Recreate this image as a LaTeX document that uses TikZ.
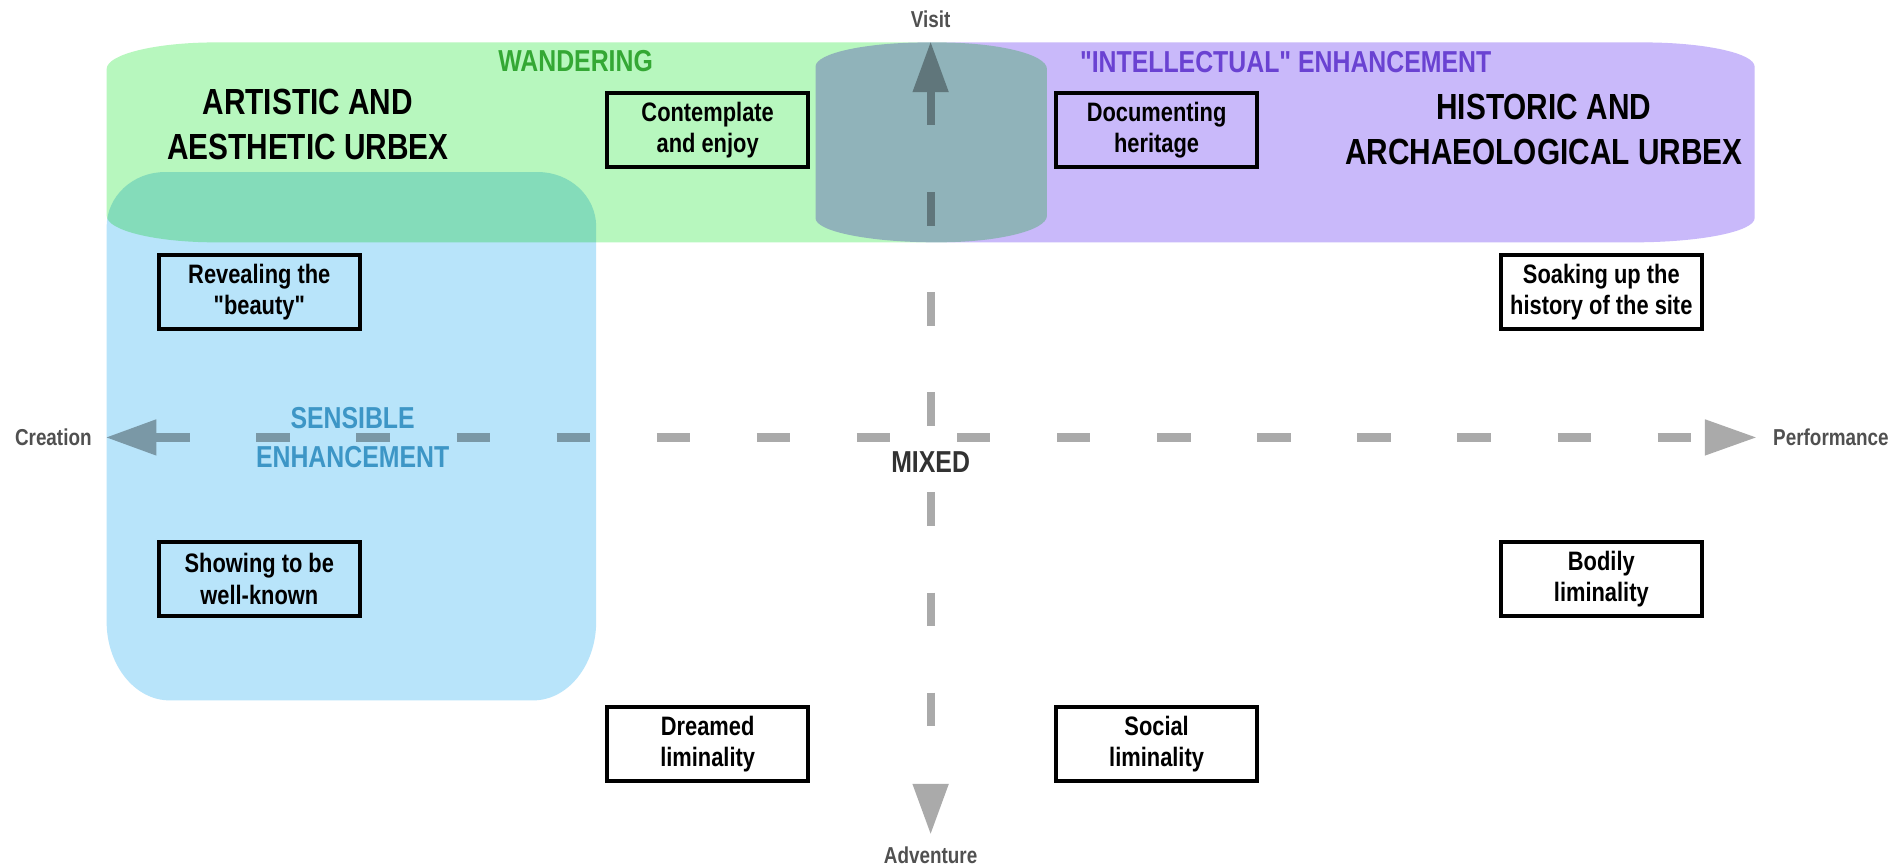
\documentclass[tikz,border=0pt]{standalone}
\usepackage{fontspec}
\setmainfont{Liberation Sans}[FakeStretch=0.82, Ligatures=TeXOff]
\definecolor{wgreen}{RGB}{183,247,190}
\definecolor{ipurple}{RGB}{201,185,250}
\definecolor{sblue}{RGB}{184,228,250}
\definecolor{wgreentext}{RGB}{52,168,52}
\definecolor{ipurpletext}{RGB}{106,66,210}
\definecolor{sbluetext}{RGB}{61,150,198}
\definecolor{axisgray}{RGB}{170,170,170}
\definecolor{labelgray}{RGB}{80,80,80}
\definecolor{mixedgray}{RGB}{50,50,50}
% x0 y0 x1 y1 rxtop rytop rxbot rybot style
\newcommand{\urbexrr}[9]{%
  \path[#9] (#1,#2+#6) .. controls (#1,#2+0.448*#6) and (#1+0.448*#5,#2) .. (#1+#5,#2)
    -- (#3-#5,#2) .. controls (#3-0.448*#5,#2) and (#3,#2+0.448*#6) .. (#3,#2+#6)
    -- (#3,#4-#8) .. controls (#3,#4-0.448*#8) and (#3-0.448*#7,#4) .. (#3-#7,#4)
    -- (#1+#7,#4) .. controls (#1+0.448*#7,#4) and (#1,#4-0.448*#8) .. (#1,#4-#8) -- cycle;}
\tikzset{
  axisline/.style={draw=axisgray, line width=6.8pt, dash pattern=on 27.5pt off 55.1pt},
  axhead/.style={fill=axisgray},
  axlabel/.style={text=labelgray, font=\bfseries\fontsize{19}{22}\selectfont, inner sep=0pt},
  stepbox/.style={draw=black, line width=3pt, minimum width=166pt, minimum height=61pt,
    inner sep=0pt, align=center, font=\bfseries\fontsize{22}{26}\selectfont},
  bigtitle/.style={align=center, inner sep=0pt, font=\bfseries\fontsize{30}{37}\selectfont},
  zonetitle/.style={align=center, inner sep=0pt, font=\bfseries\fontsize{25}{32}\selectfont},
}
\begin{document}
\begin{tikzpicture}[x=1pt,y=-1pt]
\useasboundingbox (0,0) rectangle (1568,716.3);
\fill[white] (0,0) rectangle (1568,716.3);
% axes
\coordinate (vt) at (768,35);
\coordinate (vtb) at (768,76);
\coordinate (vb) at (768,688);
\coordinate (vbb) at (768,647);
\coordinate (hl) at (88,361);
\coordinate (hlb) at (129,361);
\coordinate (hr) at (1449,361);
\coordinate (hrb) at (1407,361);
\draw[axisline] (vtb) -- (vbb);
\draw[axisline] (hlb) -- (hrb);
\fill[axhead] (vt) -- ([xshift=-15pt]vtb) -- ([xshift=15pt]vtb) -- cycle;
\fill[axhead] (vb) -- ([xshift=-15pt]vbb) -- ([xshift=15pt]vbb) -- cycle;
\fill[axhead] (hl) -- ([yshift=-15pt]hlb) -- ([yshift=15pt]hlb) -- cycle;
\fill[axhead] (hr) -- ([yshift=-15pt]hrb) -- ([yshift=15pt]hrb) -- cycle;
% zones (multiply)
\urbexrr{88}{35}{864}{200}{90}{22}{90}{22}{fill=wgreen, blend mode=multiply}
\urbexrr{673}{35}{1448}{200}{92}{20}{100}{20}{fill=ipurple, blend mode=multiply}
\urbexrr{88}{142}{492}{578}{48}{45}{52}{65}{fill=sblue, blend mode=multiply}
% axis labels
\node[axlabel] (visit) at (768,16) {Visit};
\node[axlabel] (adventure) at (768,706) {Adventure};
\node[axlabel] (creation) at (44,361) {Creation};
\node[axlabel] (performance) at (1511,361) {Performance};
% zone titles
\node[zonetitle, text=wgreentext] (wandering) at (475,50) {WANDERING};
\node[zonetitle, text=ipurpletext] (intellectual) at (1061,51) {"INTELLECTUAL" ENHANCEMENT};
\node[zonetitle, text=sbluetext] (sensible) at (291,361) {SENSIBLE\\ENHANCEMENT};
\node[zonetitle, text=mixedgray] (mixed) at (768,381) {MIXED};
\node[bigtitle] (artistic) at (254,103) {ARTISTIC AND\\AESTHETIC URBEX};
\node[bigtitle] (historic) at (1274,107) {HISTORIC AND\\ARCHAEOLOGICAL URBEX};
% boxes
\node[stepbox] (contemplate) at (584,107.5) {Contemplate\\and enjoy};
\node[stepbox] (documenting) at (954.5,107.5) {Documenting\\heritage};
\node[stepbox] (revealing) at (214,241) {Revealing the\\"beauty"};
\node[stepbox] (soaking) at (1321.5,241) {Soaking up the\\history of the site};
\node[stepbox] (showing) at (214,478) {Showing to be\\well-known};
\node[stepbox] (bodily) at (1321.5,478) {Bodily\\liminality};
\node[stepbox] (dreamed) at (584,614) {Dreamed\\liminality};
\node[stepbox] (social) at (954.5,614) {Social\\liminality};
\end{tikzpicture}
\end{document}
